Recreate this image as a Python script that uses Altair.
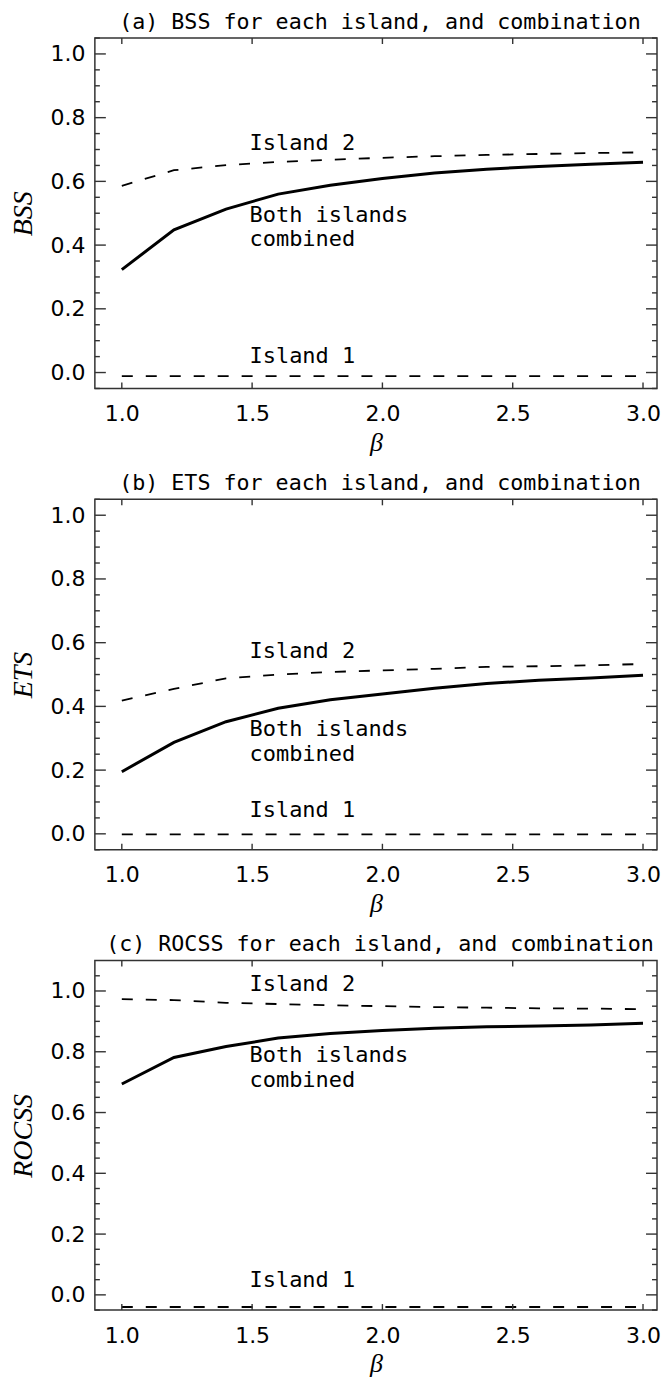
import altair as alt
import pandas as pd

beta = [1.0, 1.2, 1.4, 1.6, 1.8, 2.0, 2.2, 2.4, 2.6, 2.8, 3.0]

bss_combined = [0.323, 0.448, 0.513, 0.560, 0.588, 0.609, 0.626, 0.638, 0.647, 0.654, 0.660]
bss_island2 = [0.586, 0.635, 0.651, 0.661, 0.668, 0.674, 0.679, 0.683, 0.686, 0.689, 0.691]
bss_island1 = [-0.011, -0.011, -0.011, -0.011, -0.011, -0.011, -0.011, -0.011, -0.011, -0.011, -0.011]

ets_combined = [0.195, 0.287, 0.352, 0.394, 0.421, 0.439, 0.457, 0.472, 0.482, 0.489, 0.498]
ets_island2 = [0.418, 0.455, 0.488, 0.500, 0.508, 0.513, 0.518, 0.524, 0.526, 0.529, 0.533]
ets_island1 = [-0.002, -0.002, -0.002, -0.002, -0.002, -0.002, -0.002, -0.002, -0.002, -0.002, -0.002]

rocss_combined = [0.694, 0.781, 0.817, 0.845, 0.860, 0.870, 0.877, 0.882, 0.885, 0.888, 0.894]
rocss_island2 = [0.973, 0.970, 0.961, 0.957, 0.953, 0.950, 0.947, 0.945, 0.943, 0.942, 0.940]
rocss_island1 = [-0.040, -0.040, -0.040, -0.040, -0.040, -0.040, -0.040, -0.040, -0.040, -0.040, -0.040]

x_ticks = [1.0, 1.5, 2.0, 2.5, 3.0]
y_ticks = [0.0, 0.2, 0.4, 0.6, 0.8, 1.0]
y_minor = [-0.05, 0.05, 0.1, 0.15, 0.25, 0.3, 0.35, 0.45, 0.5, 0.55, 0.65, 0.7, 0.75,
           0.85, 0.9, 0.95, 1.05]

titles = ["(a) BSS for each island, and combination",
          "(b) ETS for each island, and combination",
          "(c) ROCSS for each island, and combination"]
ytitles = ["BSS", "ETS", "ROCSS"]

ann_text = ["Island 2", "Both islands", "combined", "Island 1"]
ann_a = [0.72, 0.493, 0.418, 0.053]
ann_b = [0.575, 0.328, 0.251, 0.075]
ann_c = [1.024, 0.788, 0.707, 0.049]
ann_x = 1.49

FONT = "DejaVu Sans"
MONO = "DejaVu Sans Mono"
SERIF = "Liberation Serif"
FRAME = "#333333"
W = 563


def panel(title, ytitle, comb, i1, i2, ydom, ann_y, H):
    xs = alt.Scale(domain=[0.8966, 3.0537], nice=False, zero=False)
    ys = alt.Scale(domain=ydom, nice=False, zero=False)
    xaxis = alt.Axis(values=x_ticks, format=".1f", title="β", labelPadding=15,
                     titlePadding=5, titleFontSize=26, grid=False, domain=False,
                     ticks=False, labelFont=FONT, labelFontSize=22,
                     labelColor="black", titleFont=SERIF, titleFontStyle="italic",
                     titleFontWeight="normal", titleColor="black")
    yaxis = alt.Axis(values=y_ticks, format=".1f", title=ytitle, labelPadding=10,
                     titlePadding=12, grid=False, domain=False, ticks=False,
                     labelFont=FONT, labelFontSize=22, labelColor="black",
                     titleFont=SERIF, titleFontStyle="italic",
                     titleFontWeight="normal", titleFontSize=28, titleColor="black")
    X = alt.X("beta:Q", scale=xs, axis=xaxis)
    Y = alt.Y("value:Q", scale=ys, axis=yaxis)

    rows = []
    for b, c, a, d in zip(beta, comb, i1, i2):
        rows.append({"beta": b, "value": c, "series": "combined"})
        rows.append({"beta": b, "value": a, "series": "island1"})
        rows.append({"beta": b, "value": d, "series": "island2"})
    df = pd.DataFrame(rows)
    base = alt.Chart(df)

    comb_line = base.transform_filter(alt.datum.series == "combined").mark_line(
        color="black", strokeWidth=3).encode(x=X, y=Y)
    is1_line = base.transform_filter(alt.datum.series == "island1").mark_line(
        color="black", strokeWidth=1.8, strokeDash=[11, 13]).encode(x=X, y=Y)
    is2_line = base.transform_filter(alt.datum.series == "island2").mark_line(
        color="black", strokeWidth=1.8, strokeDash=[11, 13]).encode(x=X, y=Y)

    ann = pd.DataFrame({"beta": [ann_x] * 4, "value": ann_y, "text": ann_text})
    txt = alt.Chart(ann).mark_text(align="left", baseline="middle", font=MONO,
                                   fontSize=22, color="black").encode(
        x=X, y=Y, text="text:N")

    head = alt.Chart(pd.DataFrame({"t": [title]})).mark_text(
        align="center", baseline="alphabetic", font=MONO, fontSize=21.7,
        color="black").encode(text="t:N", x=alt.value(W / 2 + 4), y=alt.value(-9.5))

    ymaj = pd.DataFrame({"value": y_ticks})
    ymin = pd.DataFrame({"value": [v for v in y_minor if ydom[0] <= v <= ydom[1]]})
    xmaj = pd.DataFrame({"beta": x_ticks})
    rs = dict(color=FRAME, strokeWidth=1.4)
    lmaj = alt.Chart(ymaj).mark_rule(**rs).encode(y=Y, x=alt.value(0), x2=alt.value(11))
    rmaj = alt.Chart(ymaj).mark_rule(**rs).encode(y=Y, x=alt.value(W - 11), x2=alt.value(W))
    lmin = alt.Chart(ymin).mark_rule(**rs).encode(y=Y, x=alt.value(0), x2=alt.value(5))
    rmin = alt.Chart(ymin).mark_rule(**rs).encode(y=Y, x=alt.value(W - 5), x2=alt.value(W))
    tmaj = alt.Chart(xmaj).mark_rule(**rs).encode(x=X, y=alt.value(0), y2=alt.value(6))
    bmaj = alt.Chart(xmaj).mark_rule(**rs).encode(x=X, y=alt.value(H - 6), y2=alt.value(H))

    return alt.layer(comb_line, is1_line, is2_line, txt, head, lmaj, rmaj, lmin, rmin,
                     tmaj, bmaj).properties(width=W, height=H)


pa = panel(titles[0], ytitles[0], bss_combined, bss_island1, bss_island2,
           [-0.05, 1.05], ann_a, 351)
pb = panel(titles[1], ytitles[1], ets_combined, ets_island1, ets_island2,
           [-0.05, 1.05], ann_b, 351)
pc = panel(titles[2], ytitles[2], rocss_combined, rocss_island1, rocss_island2,
           [-0.05, 1.1], ann_c, 350)

chart = alt.vconcat(pa, pb, pc, spacing=15).properties(
    padding={"left": 1, "top": 1, "right": 0, "bottom": 0},
    background="white"
).configure_view(stroke=FRAME, strokeWidth=1.5)

chart.save("out.html", embed_options={"renderer": "svg", "actions": False})
